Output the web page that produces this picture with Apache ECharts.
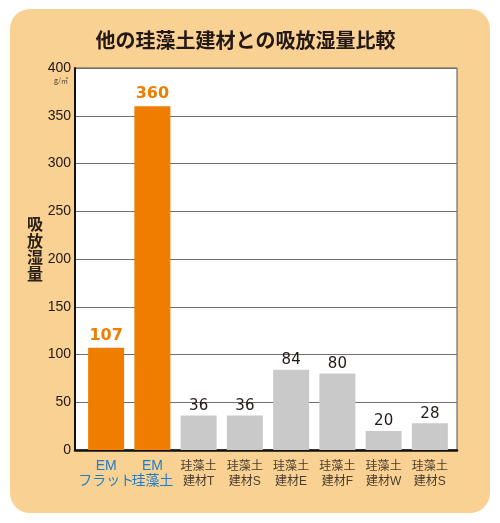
<!DOCTYPE html>
<html>
<head>
<meta charset="utf-8">
<script src="https://cdn.jsdelivr.net/npm/echarts@6/dist/echarts.min.js"></script>
<style>
	html, body { margin: 0; padding: 0; background: #fff; }
	#containerBar { width: 500px; height: 523px; }
</style>
</head>
<body>
<div id="containerBar"></div>
<script>
// データ
var categories = ['EM\nフラット', 'EM\n珪藻土', '珪藻土\n建材T', '珪藻土\n建材S', '珪藻土\n建材E', '珪藻土\n建材F', '珪藻土\n建材W', '珪藻土\n建材S'];
var values = [107, 360, 36, 36, 84, 80, 20, 28];
var highlight = [true, true, false, false, false, false, false, false];	// EM製品
var yTicks = [0, 50, 100, 150, 200, 250, 300, 350, 400];

var ORANGE = '#ee7d00';
var GRAY = '#c9c9c9';
var BLUE = '#1f7cc8';
var INK = '#231815';
var LABEL_FONT = '"Liberation Sans", "Noto Sans CJK JP", sans-serif';

var domBar = document.getElementById('containerBar');
var chartBar = echarts.init(domBar);

var barData = values.map(function (v, i) {
	return {
		value: v,
		itemStyle: { color: highlight[i] ? ORANGE : GRAY },
		label: highlight[i] ? {
			color: ORANGE, fontSize: 16, fontWeight: 'bold', fontFamily: 'DejaVu Sans', distance: 4
		} : {
			color: INK, fontSize: 15, fontFamily: 'DejaVu Sans', distance: 2
		}
	};
});

var option = {
	backgroundColor: '#fff',
	animation: false,
	graphic: [
		{					// 背景の角丸
			type: 'rect',
			z: -10,
			silent: true,
			shape: { x: 10, y: 9, width: 480, height: 504, r: 20 },
			style: { fill: '#f9d293' }
		},
		{					// タイトル
			type: 'text',
			x: 245.5,
			y: 40,
			style: {
				text: '他の珪藻土建材との吸放湿量比較',
				fontSize: 20,
				fontWeight: 'bold',
				fill: INK,
				align: 'center',
				verticalAlign: 'middle',
				fontFamily: 'Noto Sans CJK JP'
			}
		},
		{					// 縦書きの軸名
			type: 'text',
			left: 27,
			top: 216,
			style: {
				text: '吸\n放\n湿\n量',
				fontSize: 16,
				lineHeight: 16.5,
				fontWeight: 'bold',
				fill: '#2b2118',
				fontFamily: 'Noto Sans CJK JP'
			}
		},
		{					// 単位
			type: 'text',
			left: 54,
			top: 77,
			style: {
				text: 'g/㎡',
				fontSize: 7,
				fill: '#4a3c30',
				fontFamily: 'Noto Sans CJK JP'
			}
		}
	],
	grid: [
		{	// 枠と目盛り
			left: 75, right: 43, top: 68, bottom: 73,
			show: true,
			backgroundColor: '#fff',
			borderColor: '#555',
			borderWidth: 1
		},
		{	// 棒グラフ
			left: 83, right: 47, top: 68, bottom: 73
		}
	],
	xAxis: [
		{
			type: 'category',
			gridIndex: 0,
			data: [''],
			axisLine: { lineStyle: { color: '#111', width: 2.5 } },
			axisTick: { show: false },
			axisLabel: { show: false }
		},
		{
			type: 'category',
			gridIndex: 1,
			data: categories,
			axisLine: { show: false },
			axisTick: { show: false },
			axisLabel: {
				margin: 9,
				interval: 0,
				formatter: function (value, idx) {
					var key = highlight[idx] ? 'em' : 'ot';
					return value.split('\n').map(function (s) { return '{' + key + '|' + s + '}'; }).join('\n');
				},
				rich: {
					em: { color: BLUE, fontSize: 14, lineHeight: 15, fontFamily: LABEL_FONT },
					ot: { color: '#4a3c30', fontSize: 12, lineHeight: 15, fontFamily: LABEL_FONT }
				}
			}
		}
	],
	yAxis: [
		{
			type: 'value',
			gridIndex: 0,
			min: yTicks[0],
			max: yTicks[yTicks.length - 1],
			interval: yTicks[1] - yTicks[0],
			axisLine: { show: true, lineStyle: { color: '#111', width: 2 } },
			axisTick: { show: false },
			axisLabel: { color: INK, fontSize: 14, margin: 4, fontFamily: 'Liberation Sans' },
			splitLine: { lineStyle: { color: '#707070', width: 1 } }
		},
		{
			type: 'value',
			gridIndex: 1,
			min: yTicks[0],
			max: yTicks[yTicks.length - 1],
			show: false,
			splitLine: { show: false }
		}
	],
	series: [{
		name: '吸放湿量',
		type: 'bar',
		xAxisIndex: 1,
		yAxisIndex: 1,
		barWidth: 36,
		data: barData,
		label: { show: true, position: 'top' }
	}]
};

chartBar.setOption(option);
</script>
</body>
</html>
